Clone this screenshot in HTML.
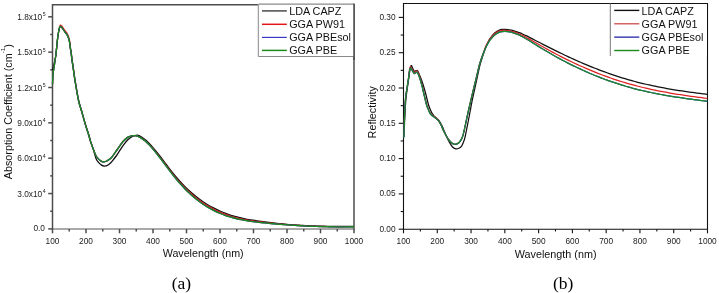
<!DOCTYPE html>
<html><head><meta charset="utf-8"><title>Absorption and Reflectivity</title>
<style>
html,body{margin:0;padding:0;background:#fff;}
body{width:719px;height:293px;overflow:hidden;}
svg{display:block;font-family:"Liberation Sans",sans-serif;will-change:transform;}
</style></head><body>
<svg width="719" height="293" viewBox="0 0 719 293">
<rect width="719" height="293" fill="#fff"/>
<g fill="none" stroke="#4d4d4d" stroke-width="1.5">
<path d="M52.50 229.60 V4.80 H354.00 V229.60"/>
<path d="M52.50 229.00 H354.00" stroke="#555" stroke-width="1"/>
<path d="M48.2 228.90 H52.50"/>
<path d="M50.2 211.22 H52.50"/>
<path d="M48.2 193.55 H52.50"/>
<path d="M50.2 175.88 H52.50"/>
<path d="M48.2 158.20 H52.50"/>
<path d="M50.2 140.53 H52.50"/>
<path d="M48.2 122.85 H52.50"/>
<path d="M50.2 105.18 H52.50"/>
<path d="M48.2 87.50 H52.50"/>
<path d="M50.2 69.83 H52.50"/>
<path d="M48.2 52.15 H52.50"/>
<path d="M50.2 34.48 H52.50"/>
<path d="M48.2 16.80 H52.50"/>
<path d="M52.50 229.00 V233.3"/>
<path d="M69.25 229.00 V231.4"/>
<path d="M86.00 229.00 V233.3"/>
<path d="M102.75 229.00 V231.4"/>
<path d="M119.50 229.00 V233.3"/>
<path d="M136.25 229.00 V231.4"/>
<path d="M153.00 229.00 V233.3"/>
<path d="M169.75 229.00 V231.4"/>
<path d="M186.50 229.00 V233.3"/>
<path d="M203.25 229.00 V231.4"/>
<path d="M220.00 229.00 V233.3"/>
<path d="M236.75 229.00 V231.4"/>
<path d="M253.50 229.00 V233.3"/>
<path d="M270.25 229.00 V231.4"/>
<path d="M287.00 229.00 V233.3"/>
<path d="M303.75 229.00 V231.4"/>
<path d="M320.50 229.00 V233.3"/>
<path d="M337.25 229.00 V231.4"/>
<path d="M354.00 229.00 V233.3"/>
</g>
<g fill="none" stroke-width="1.3" stroke-linejoin="round">
<path stroke="#111" d="M52.50 70.00C52.70 69.25 53.15 67.92 53.70 65.50C54.25 63.08 55.20 59.58 55.80 55.50C56.40 51.42 56.87 44.75 57.30 41.00C57.73 37.25 58.03 35.18 58.40 33.00C58.77 30.82 59.15 29.00 59.50 27.90C59.85 26.80 60.10 26.45 60.50 26.40C60.90 26.35 61.40 27.00 61.90 27.60C62.40 28.20 62.90 29.13 63.50 30.00C64.10 30.87 64.92 32.03 65.50 32.80C66.08 33.57 66.52 33.82 67.00 34.60C67.48 35.38 67.97 36.27 68.40 37.50C68.83 38.73 69.25 40.25 69.60 42.00C69.95 43.75 70.22 46.17 70.50 48.00C70.78 49.83 71.03 51.05 71.30 53.00C71.57 54.95 71.80 57.53 72.10 59.70C72.40 61.87 72.62 62.67 73.10 66.00C73.58 69.33 74.08 74.00 75.00 79.70C75.92 85.40 77.52 95.07 78.60 100.20C79.68 105.33 80.33 106.37 81.50 110.50C82.67 114.63 84.42 121.03 85.60 125.00C86.78 128.97 87.73 131.47 88.60 134.30C89.47 137.13 89.95 139.30 90.80 142.00C91.65 144.70 92.83 147.77 93.70 150.50C94.57 153.23 95.17 156.37 96.00 158.40C96.83 160.43 97.78 161.58 98.70 162.70C99.62 163.82 100.58 164.53 101.50 165.10C102.42 165.67 103.30 166.00 104.20 166.10C105.10 166.20 105.98 166.10 106.90 165.70C107.82 165.30 108.85 164.43 109.70 163.70C110.55 162.97 110.92 162.58 112.00 161.30C113.08 160.02 114.87 157.85 116.20 156.00C117.53 154.15 118.73 152.08 120.00 150.20C121.27 148.32 122.53 146.40 123.80 144.70C125.07 143.00 126.23 141.33 127.60 140.00C128.97 138.67 130.63 137.47 132.00 136.70C133.37 135.93 134.63 135.58 135.80 135.40C136.97 135.22 137.47 134.92 139.00 135.60C140.53 136.28 143.33 138.19 145.00 139.47C146.67 140.74 147.67 141.90 149.00 143.25C150.33 144.61 151.67 146.09 153.00 147.62C154.33 149.15 155.67 150.77 157.00 152.42C158.33 154.07 159.67 155.80 161.00 157.52C162.33 159.24 163.67 161.02 165.00 162.77C166.33 164.52 167.67 166.29 169.00 168.02C170.33 169.75 171.67 171.48 173.00 173.14C174.33 174.81 175.67 176.43 177.00 177.99C178.33 179.55 179.67 181.05 181.00 182.49C182.33 183.94 183.67 185.32 185.00 186.66C186.33 187.99 187.67 189.26 189.00 190.50C190.33 191.73 191.67 192.92 193.00 194.06C194.33 195.20 195.67 196.28 197.00 197.33C198.33 198.37 199.67 199.36 201.00 200.31C202.33 201.26 203.67 202.17 205.00 203.03C206.33 203.89 207.67 204.70 209.00 205.48C210.33 206.26 211.67 206.98 213.00 207.69C214.33 208.39 215.67 209.06 217.00 209.70C218.33 210.33 219.67 210.94 221.00 211.52C222.33 212.09 223.67 212.63 225.00 213.14C226.33 213.65 227.67 214.12 229.00 214.57C230.33 215.02 231.67 215.44 233.00 215.83C234.33 216.23 235.67 216.59 237.00 216.94C238.33 217.29 239.67 217.61 241.00 217.92C242.33 218.22 243.67 218.51 245.00 218.78C246.33 219.05 247.67 219.30 249.00 219.53C250.33 219.77 251.67 219.99 253.00 220.21C254.33 220.42 255.67 220.62 257.00 220.82C258.33 221.01 259.67 221.19 261.00 221.38C262.33 221.56 263.67 221.73 265.00 221.90C266.33 222.07 267.67 222.24 269.00 222.40C270.33 222.57 271.67 222.73 273.00 222.88C274.33 223.03 275.67 223.18 277.00 223.33C278.33 223.48 279.67 223.62 281.00 223.76C282.33 223.90 283.67 224.03 285.00 224.16C286.33 224.29 287.67 224.42 289.00 224.54C290.33 224.65 291.67 224.75 293.00 224.84C294.33 224.93 295.67 225.02 297.00 225.10C298.33 225.18 299.67 225.26 301.00 225.34C302.33 225.41 303.67 225.48 305.00 225.55C306.33 225.62 307.67 225.68 309.00 225.74C310.33 225.80 311.67 225.86 313.00 225.91C314.33 225.96 315.67 226.01 317.00 226.05C318.33 226.09 319.67 226.13 321.00 226.17C322.33 226.21 323.67 226.24 325.00 226.27C326.33 226.30 327.67 226.32 329.00 226.34C330.33 226.37 331.67 226.38 333.00 226.40C334.33 226.41 335.67 226.42 337.00 226.43C338.33 226.44 339.67 226.44 341.00 226.44C342.33 226.44 343.67 226.43 345.00 226.42C346.33 226.42 347.67 226.41 349.00 226.39C350.33 226.38 352.17 226.35 353.00 226.33C353.83 226.32 353.83 226.32 354.00 226.32"/>
<path stroke="#d81c1c" d="M52.50 84.00C52.58 82.42 52.80 76.92 53.00 74.50C53.20 72.08 53.23 72.67 53.70 69.50C54.17 66.33 55.20 60.25 55.80 55.50C56.40 50.75 56.87 44.75 57.30 41.00C57.73 37.25 58.03 35.23 58.40 33.00C58.77 30.77 59.17 28.92 59.50 27.60C59.83 26.28 60.00 25.32 60.40 25.10C60.80 24.88 61.38 25.70 61.90 26.30C62.42 26.90 62.90 27.83 63.50 28.70C64.10 29.57 64.92 30.73 65.50 31.50C66.08 32.27 66.53 32.52 67.00 33.30C67.47 34.08 67.88 34.97 68.30 36.20C68.72 37.43 69.17 38.73 69.50 40.70C69.83 42.67 70.03 45.95 70.30 48.00C70.57 50.05 70.83 51.05 71.10 53.00C71.37 54.95 71.60 57.53 71.90 59.70C72.20 61.87 72.42 62.70 72.90 66.00C73.38 69.30 73.88 73.83 74.80 79.50C75.72 85.17 77.32 94.88 78.40 100.00C79.48 105.12 80.13 106.10 81.30 110.20C82.47 114.30 84.22 120.63 85.40 124.60C86.58 128.57 87.53 131.17 88.40 134.00C89.27 136.83 89.73 138.93 90.60 141.60C91.47 144.27 92.70 147.63 93.60 150.00C94.50 152.37 95.15 154.28 96.00 155.80C96.85 157.32 97.78 158.18 98.70 159.10C99.62 160.02 100.58 160.85 101.50 161.30C102.42 161.75 103.30 161.85 104.20 161.80C105.10 161.75 105.98 161.45 106.90 161.00C107.82 160.55 108.80 159.83 109.70 159.10C110.60 158.37 110.98 158.28 112.30 156.60C113.62 154.92 115.85 151.47 117.60 149.00C119.35 146.53 121.13 143.73 122.80 141.80C124.47 139.87 126.15 138.40 127.60 137.40C129.05 136.40 130.27 136.08 131.50 135.80C132.73 135.52 133.92 135.62 135.00 135.70C136.08 135.78 137.08 135.98 138.00 136.30C138.92 136.62 139.33 136.87 140.50 137.59C141.67 138.32 143.58 139.52 145.00 140.67C146.42 141.81 147.67 143.10 149.00 144.45C150.33 145.81 151.67 147.29 153.00 148.82C154.33 150.35 155.67 151.97 157.00 153.62C158.33 155.27 159.67 157.00 161.00 158.72C162.33 160.44 163.67 162.22 165.00 163.97C166.33 165.72 167.67 167.49 169.00 169.22C170.33 170.95 171.67 172.68 173.00 174.34C174.33 176.01 175.67 177.63 177.00 179.19C178.33 180.75 179.67 182.25 181.00 183.69C182.33 185.14 183.67 186.52 185.00 187.86C186.33 189.19 187.67 190.46 189.00 191.70C190.33 192.93 191.67 194.12 193.00 195.26C194.33 196.40 195.67 197.48 197.00 198.53C198.33 199.57 199.67 200.56 201.00 201.51C202.33 202.46 203.67 203.37 205.00 204.23C206.33 205.09 207.67 205.90 209.00 206.68C210.33 207.46 211.67 208.19 213.00 208.89C214.33 209.59 215.67 210.24 217.00 210.87C218.33 211.50 219.67 212.09 221.00 212.65C222.33 213.20 223.67 213.72 225.00 214.22C226.33 214.71 227.67 215.17 229.00 215.60C230.33 216.03 231.67 216.44 233.00 216.82C234.33 217.20 235.67 217.55 237.00 217.88C238.33 218.21 239.67 218.52 241.00 218.81C242.33 219.10 243.67 219.36 245.00 219.62C246.33 219.87 247.67 220.10 249.00 220.33C250.33 220.55 251.67 220.75 253.00 220.95C254.33 221.15 255.67 221.33 257.00 221.51C258.33 221.69 259.67 221.86 261.00 222.02C262.33 222.19 263.67 222.35 265.00 222.50C266.33 222.66 267.67 222.81 269.00 222.96C270.33 223.10 271.67 223.25 273.00 223.38C274.33 223.52 275.67 223.66 277.00 223.79C278.33 223.92 279.67 224.04 281.00 224.17C282.33 224.29 283.67 224.41 285.00 224.52C286.33 224.63 287.67 224.75 289.00 224.85C290.33 224.95 291.67 225.05 293.00 225.14C294.33 225.23 295.67 225.32 297.00 225.40C298.33 225.48 299.67 225.56 301.00 225.64C302.33 225.71 303.67 225.78 305.00 225.85C306.33 225.92 307.67 225.98 309.00 226.04C310.33 226.10 311.67 226.16 313.00 226.21C314.33 226.26 315.67 226.31 317.00 226.35C318.33 226.39 319.67 226.43 321.00 226.47C322.33 226.51 323.67 226.54 325.00 226.57C326.33 226.60 327.67 226.62 329.00 226.64C330.33 226.67 331.67 226.68 333.00 226.70C334.33 226.71 335.67 226.72 337.00 226.73C338.33 226.74 339.67 226.74 341.00 226.74C342.33 226.74 343.67 226.73 345.00 226.72C346.33 226.72 347.67 226.71 349.00 226.69C350.33 226.68 352.17 226.65 353.00 226.63C353.83 226.62 353.83 226.62 354.00 226.62"/>
<path stroke="#2a2ab8" d="M52.50 84.50C52.58 82.83 52.80 77.00 53.00 74.50C53.20 72.00 53.23 72.67 53.70 69.50C54.17 66.33 55.20 60.25 55.80 55.50C56.40 50.75 56.87 44.75 57.30 41.00C57.73 37.25 58.03 35.23 58.40 33.00C58.77 30.77 59.17 28.70 59.50 27.60C59.83 26.50 60.00 26.40 60.40 26.40C60.80 26.40 61.38 27.00 61.90 27.60C62.42 28.20 62.90 29.13 63.50 30.00C64.10 30.87 64.92 32.03 65.50 32.80C66.08 33.57 66.53 33.82 67.00 34.60C67.47 35.38 67.88 36.27 68.30 37.50C68.72 38.73 69.17 40.25 69.50 42.00C69.83 43.75 70.03 46.17 70.30 48.00C70.57 49.83 70.83 51.05 71.10 53.00C71.37 54.95 71.60 57.53 71.90 59.70C72.20 61.87 72.42 62.70 72.90 66.00C73.38 69.30 73.88 73.83 74.80 79.50C75.72 85.17 77.32 94.88 78.40 100.00C79.48 105.12 80.13 106.10 81.30 110.20C82.47 114.30 84.22 120.63 85.40 124.60C86.58 128.57 87.53 131.17 88.40 134.00C89.27 136.83 89.73 138.93 90.60 141.60C91.47 144.27 92.70 147.63 93.60 150.00C94.50 152.37 95.15 154.28 96.00 155.80C96.85 157.32 97.78 158.18 98.70 159.10C99.62 160.02 100.58 160.85 101.50 161.30C102.42 161.75 103.30 161.85 104.20 161.80C105.10 161.75 105.98 161.45 106.90 161.00C107.82 160.55 108.80 159.83 109.70 159.10C110.60 158.37 110.98 158.28 112.30 156.60C113.62 154.92 115.85 151.47 117.60 149.00C119.35 146.53 121.13 143.73 122.80 141.80C124.47 139.87 126.15 138.40 127.60 137.40C129.05 136.40 130.27 136.08 131.50 135.80C132.73 135.52 133.92 135.62 135.00 135.70C136.08 135.78 137.08 135.98 138.00 136.30C138.92 136.62 139.33 136.86 140.50 137.61C141.67 138.35 143.58 139.61 145.00 140.79C146.42 141.96 147.67 143.28 149.00 144.67C150.33 146.06 151.67 147.57 153.00 149.13C154.33 150.69 155.67 152.35 157.00 154.03C158.33 155.71 159.67 157.47 161.00 159.22C162.33 160.98 163.67 162.78 165.00 164.57C166.33 166.35 167.67 168.16 169.00 169.92C170.33 171.68 171.67 173.44 173.00 175.14C174.33 176.83 175.67 178.49 177.00 180.08C178.33 181.67 179.67 183.20 181.00 184.68C182.33 186.15 183.67 187.57 185.00 188.94C186.33 190.30 187.67 191.62 189.00 192.87C190.33 194.13 191.67 195.31 193.00 196.46C194.33 197.60 195.67 198.68 197.00 199.73C198.33 200.77 199.67 201.76 201.00 202.71C202.33 203.66 203.67 204.57 205.00 205.43C206.33 206.29 207.67 207.10 209.00 207.88C210.33 208.66 211.67 209.39 213.00 210.09C214.33 210.78 215.67 211.43 217.00 212.04C218.33 212.65 219.67 213.22 221.00 213.76C222.33 214.30 223.67 214.80 225.00 215.27C226.33 215.74 227.67 216.18 229.00 216.60C230.33 217.01 231.67 217.39 233.00 217.75C234.33 218.11 235.67 218.44 237.00 218.76C238.33 219.07 239.67 219.36 241.00 219.63C242.33 219.90 243.67 220.14 245.00 220.38C246.33 220.61 247.67 220.82 249.00 221.03C250.33 221.23 251.67 221.42 253.00 221.60C254.33 221.77 255.67 221.94 257.00 222.10C258.33 222.26 259.67 222.40 261.00 222.55C262.33 222.69 263.67 222.83 265.00 222.97C266.33 223.10 267.67 223.24 269.00 223.36C270.33 223.49 271.67 223.61 273.00 223.73C274.33 223.85 275.67 223.97 277.00 224.08C278.33 224.19 279.67 224.30 281.00 224.40C282.33 224.50 283.67 224.60 285.00 224.69C286.33 224.79 287.67 224.87 289.00 224.96C290.33 225.06 291.67 225.15 293.00 225.24C294.33 225.33 295.67 225.42 297.00 225.50C298.33 225.58 299.67 225.66 301.00 225.74C302.33 225.81 303.67 225.88 305.00 225.95C306.33 226.02 307.67 226.08 309.00 226.14C310.33 226.20 311.67 226.26 313.00 226.31C314.33 226.36 315.67 226.41 317.00 226.45C318.33 226.49 319.67 226.53 321.00 226.57C322.33 226.61 323.67 226.64 325.00 226.67C326.33 226.70 327.67 226.72 329.00 226.74C330.33 226.77 331.67 226.78 333.00 226.80C334.33 226.81 335.67 226.82 337.00 226.83C338.33 226.84 339.67 226.84 341.00 226.84C342.33 226.84 343.67 226.83 345.00 226.82C346.33 226.82 347.67 226.81 349.00 226.79C350.33 226.78 352.17 226.75 353.00 226.73C353.83 226.72 353.83 226.72 354.00 226.72"/>
<path stroke="#1d8a1d" d="M52.50 84.50C52.58 82.83 52.80 77.00 53.00 74.50C53.20 72.00 53.23 72.67 53.70 69.50C54.17 66.33 55.20 60.25 55.80 55.50C56.40 50.75 56.87 44.75 57.30 41.00C57.73 37.25 58.03 35.23 58.40 33.00C58.77 30.77 59.17 28.70 59.50 27.60C59.83 26.50 60.00 26.40 60.40 26.40C60.80 26.40 61.38 27.00 61.90 27.60C62.42 28.20 62.90 29.13 63.50 30.00C64.10 30.87 64.92 32.03 65.50 32.80C66.08 33.57 66.53 33.82 67.00 34.60C67.47 35.38 67.88 36.27 68.30 37.50C68.72 38.73 69.17 40.25 69.50 42.00C69.83 43.75 70.03 46.17 70.30 48.00C70.57 49.83 70.83 51.05 71.10 53.00C71.37 54.95 71.60 57.53 71.90 59.70C72.20 61.87 72.42 62.70 72.90 66.00C73.38 69.30 73.88 73.83 74.80 79.50C75.72 85.17 77.32 94.88 78.40 100.00C79.48 105.12 80.13 106.10 81.30 110.20C82.47 114.30 84.22 120.63 85.40 124.60C86.58 128.57 87.53 131.17 88.40 134.00C89.27 136.83 89.73 138.93 90.60 141.60C91.47 144.27 92.70 147.63 93.60 150.00C94.50 152.37 95.15 154.28 96.00 155.80C96.85 157.32 97.78 158.18 98.70 159.10C99.62 160.02 100.58 160.85 101.50 161.30C102.42 161.75 103.30 161.85 104.20 161.80C105.10 161.75 105.98 161.45 106.90 161.00C107.82 160.55 108.80 159.83 109.70 159.10C110.60 158.37 110.98 158.28 112.30 156.60C113.62 154.92 115.85 151.47 117.60 149.00C119.35 146.53 121.13 143.73 122.80 141.80C124.47 139.87 126.15 138.40 127.60 137.40C129.05 136.40 130.27 136.08 131.50 135.80C132.73 135.52 133.92 135.62 135.00 135.70C136.08 135.78 137.08 135.98 138.00 136.30C138.92 136.62 139.33 136.86 140.50 137.61C141.67 138.35 143.58 139.61 145.00 140.79C146.42 141.96 147.67 143.28 149.00 144.67C150.33 146.06 151.67 147.57 153.00 149.13C154.33 150.69 155.67 152.35 157.00 154.03C158.33 155.71 159.67 157.47 161.00 159.22C162.33 160.98 163.67 162.78 165.00 164.57C166.33 166.35 167.67 168.16 169.00 169.92C170.33 171.68 171.67 173.44 173.00 175.14C174.33 176.83 175.67 178.49 177.00 180.08C178.33 181.67 179.67 183.20 181.00 184.68C182.33 186.15 183.67 187.57 185.00 188.94C186.33 190.30 187.67 191.62 189.00 192.87C190.33 194.13 191.67 195.31 193.00 196.46C194.33 197.60 195.67 198.68 197.00 199.73C198.33 200.77 199.67 201.76 201.00 202.71C202.33 203.66 203.67 204.57 205.00 205.43C206.33 206.29 207.67 207.10 209.00 207.88C210.33 208.66 211.67 209.39 213.00 210.09C214.33 210.78 215.67 211.43 217.00 212.04C218.33 212.65 219.67 213.22 221.00 213.76C222.33 214.30 223.67 214.80 225.00 215.27C226.33 215.74 227.67 216.18 229.00 216.60C230.33 217.01 231.67 217.39 233.00 217.75C234.33 218.11 235.67 218.44 237.00 218.76C238.33 219.07 239.67 219.36 241.00 219.63C242.33 219.90 243.67 220.14 245.00 220.38C246.33 220.61 247.67 220.82 249.00 221.03C250.33 221.23 251.67 221.42 253.00 221.60C254.33 221.77 255.67 221.94 257.00 222.10C258.33 222.26 259.67 222.40 261.00 222.55C262.33 222.69 263.67 222.83 265.00 222.97C266.33 223.10 267.67 223.24 269.00 223.36C270.33 223.49 271.67 223.61 273.00 223.73C274.33 223.85 275.67 223.97 277.00 224.08C278.33 224.19 279.67 224.30 281.00 224.40C282.33 224.50 283.67 224.60 285.00 224.69C286.33 224.79 287.67 224.87 289.00 224.96C290.33 225.06 291.67 225.15 293.00 225.24C294.33 225.33 295.67 225.42 297.00 225.50C298.33 225.58 299.67 225.66 301.00 225.74C302.33 225.81 303.67 225.88 305.00 225.95C306.33 226.02 307.67 226.08 309.00 226.14C310.33 226.20 311.67 226.26 313.00 226.31C314.33 226.36 315.67 226.41 317.00 226.45C318.33 226.49 319.67 226.53 321.00 226.57C322.33 226.61 323.67 226.64 325.00 226.67C326.33 226.70 327.67 226.72 329.00 226.74C330.33 226.77 331.67 226.78 333.00 226.80C334.33 226.81 335.67 226.82 337.00 226.83C338.33 226.84 339.67 226.84 341.00 226.84C342.33 226.84 343.67 226.83 345.00 226.82C346.33 226.82 347.67 226.81 349.00 226.79C350.33 226.78 352.17 226.75 353.00 226.73C353.83 226.72 353.83 226.72 354.00 226.72"/>
</g>
<rect x="258.4" y="3.0" width="95.60" height="53.50" fill="#fff"/>
<path d="M258.4 4.1 H354.00" fill="none" stroke="#8a8a8a" stroke-width="1.4"/>
<path d="M258.4 4.10 V56.5" fill="none" stroke="#a0a0a0" stroke-width="1.3"/>
<path d="M258.4 56.5 H354.00" fill="none" stroke="#888" stroke-width="1.1"/>
<path d="M354.00 3.4 V60" fill="none" stroke="#4d4d4d" stroke-width="1.5"/>
<path d="M262 10.90 H286.8" stroke="#4a4a4a" stroke-width="1.5"/>
<text x="289.2" y="15.10" font-size="10.8" fill="#111">LDA CAPZ</text>
<path d="M262 24.30 H286.8" stroke="#e01818" stroke-width="1.5"/>
<text x="289.2" y="28.05" font-size="10.8" fill="#111">GGA PW91</text>
<path d="M262 37.40 H286.8" stroke="#3838c8" stroke-width="1.2"/>
<text x="289.2" y="41.00" font-size="10.8" fill="#111">GGA PBEsol</text>
<path d="M262 50.40 H286.8" stroke="#1a8a1a" stroke-width="1.5"/>
<text x="289.2" y="53.95" font-size="10.8" fill="#111">GGA PBE</text>
<g font-size="8.3" fill="#222">
<text x="45.60" y="196.75" text-anchor="end" font-size="8.30">3.0x10<tspan dx="0.5" dy="-3.6" font-size="5.20">4</tspan></text>
<text x="45.60" y="161.40" text-anchor="end" font-size="8.30">6.0x10<tspan dx="0.5" dy="-3.6" font-size="5.20">4</tspan></text>
<text x="45.60" y="126.05" text-anchor="end" font-size="8.30">9.0x10<tspan dx="0.5" dy="-3.6" font-size="5.20">4</tspan></text>
<text x="45.60" y="90.70" text-anchor="end" font-size="8.30">1.2x10<tspan dx="0.5" dy="-3.6" font-size="5.20">5</tspan></text>
<text x="45.60" y="55.35" text-anchor="end" font-size="8.30">1.5x10<tspan dx="0.5" dy="-3.6" font-size="5.20">5</tspan></text>
<text x="45.60" y="20.00" text-anchor="end" font-size="8.30">1.8x10<tspan dx="0.5" dy="-3.6" font-size="5.20">5</tspan></text>
<text x="45.0" y="231.40" text-anchor="end">0.0</text>
<text x="52.50" y="243.8" text-anchor="middle">100</text>
<text x="86.00" y="243.8" text-anchor="middle">200</text>
<text x="119.50" y="243.8" text-anchor="middle">300</text>
<text x="153.00" y="243.8" text-anchor="middle">400</text>
<text x="186.50" y="243.8" text-anchor="middle">500</text>
<text x="220.00" y="243.8" text-anchor="middle">600</text>
<text x="253.50" y="243.8" text-anchor="middle">700</text>
<text x="287.00" y="243.8" text-anchor="middle">800</text>
<text x="320.50" y="243.8" text-anchor="middle">900</text>
<text x="354.00" y="243.8" text-anchor="middle">1000</text>
</g>
<text x="203.2" y="257.4" text-anchor="middle" font-size="10.7" fill="#111">Wavelength (nm)</text>
<text transform="translate(12.2 111.7) rotate(-90)" text-anchor="middle" font-size="10.75" fill="#111">Absorption Coefficient (cm<tspan dy="-7.2" font-size="6.2">-1</tspan><tspan dy="7.2">)</tspan></text>
<g fill="none" stroke="#111" stroke-width="1.1">
<path d="M403.50 3.45 H707.50 V229.25 H403.50 Z"/>
<path d="M398.7 229.20 H403.50"/>
<path d="M400.7 211.55 H403.50"/>
<path d="M398.7 193.90 H403.50"/>
<path d="M400.7 176.25 H403.50"/>
<path d="M398.7 158.60 H403.50"/>
<path d="M400.7 140.95 H403.50"/>
<path d="M398.7 123.30 H403.50"/>
<path d="M400.7 105.65 H403.50"/>
<path d="M398.7 88.00 H403.50"/>
<path d="M400.7 70.35 H403.50"/>
<path d="M398.7 52.70 H403.50"/>
<path d="M400.7 35.05 H403.50"/>
<path d="M398.7 17.40 H403.50"/>
<path d="M403.50 229.25 V233.3"/>
<path d="M420.39 229.25 V231.5"/>
<path d="M437.28 229.25 V233.3"/>
<path d="M454.17 229.25 V231.5"/>
<path d="M471.06 229.25 V233.3"/>
<path d="M487.94 229.25 V231.5"/>
<path d="M504.83 229.25 V233.3"/>
<path d="M521.72 229.25 V231.5"/>
<path d="M538.61 229.25 V233.3"/>
<path d="M555.50 229.25 V231.5"/>
<path d="M572.39 229.25 V233.3"/>
<path d="M589.28 229.25 V231.5"/>
<path d="M606.17 229.25 V233.3"/>
<path d="M623.06 229.25 V231.5"/>
<path d="M639.94 229.25 V233.3"/>
<path d="M656.83 229.25 V231.5"/>
<path d="M673.72 229.25 V233.3"/>
<path d="M690.61 229.25 V231.5"/>
<path d="M707.50 229.25 V233.3"/>
</g>
<g fill="none" stroke-width="1.25" stroke-linejoin="round">
<path stroke="#111" d="M403.80 137.00C403.90 135.17 404.22 129.67 404.40 126.00C404.58 122.33 404.70 118.83 404.90 115.00C405.10 111.17 405.37 106.25 405.60 103.00C405.83 99.75 405.98 98.17 406.30 95.50C406.62 92.83 407.08 89.92 407.50 87.00C407.92 84.08 408.42 80.70 408.80 78.00C409.18 75.30 409.40 72.87 409.80 70.80C410.20 68.73 410.70 65.98 411.20 65.60C411.70 65.22 412.27 67.55 412.80 68.50C413.33 69.45 413.65 70.98 414.40 71.30C415.15 71.62 416.48 69.85 417.30 70.40C418.12 70.95 418.58 72.95 419.30 74.60C420.02 76.25 420.85 78.23 421.60 80.30C422.35 82.37 423.08 84.63 423.80 87.00C424.52 89.37 425.13 91.58 425.90 94.50C426.67 97.42 427.65 101.95 428.40 104.50C429.15 107.05 429.78 108.32 430.40 109.80C431.02 111.28 431.52 112.40 432.10 113.40C432.68 114.40 433.32 115.13 433.90 115.80C434.48 116.47 434.75 116.60 435.60 117.40C436.45 118.20 437.95 119.23 439.00 120.60C440.05 121.97 441.03 123.87 441.90 125.60C442.77 127.33 443.42 129.13 444.20 131.00C444.98 132.87 445.78 135.03 446.60 136.80C447.42 138.57 448.12 139.90 449.10 141.60C450.08 143.30 451.38 145.80 452.50 147.00C453.62 148.20 454.75 148.58 455.80 148.80C456.85 149.02 457.87 148.70 458.80 148.30C459.73 147.90 460.65 147.37 461.40 146.40C462.15 145.43 462.70 144.00 463.30 142.50C463.90 141.00 464.20 140.82 465.00 137.40C465.80 133.98 467.23 126.40 468.10 122.00C468.97 117.60 469.52 114.58 470.20 111.00C470.88 107.42 471.40 104.42 472.20 100.50C473.00 96.58 474.10 91.67 475.00 87.50C475.90 83.33 476.78 79.20 477.60 75.50C478.42 71.80 479.18 68.13 479.90 65.30C480.62 62.47 481.22 60.67 481.90 58.50C482.58 56.33 483.23 54.42 484.00 52.30C484.77 50.18 485.58 47.97 486.50 45.80C487.42 43.63 488.92 40.47 489.50 39.30C490.08 38.13 489.42 39.54 490.00 38.76C490.58 37.98 492.00 35.78 493.00 34.63C494.00 33.49 495.00 32.61 496.00 31.88C497.00 31.14 498.00 30.64 499.00 30.24C500.00 29.84 501.00 29.63 502.00 29.48C503.00 29.33 504.00 29.32 505.00 29.34C506.00 29.36 507.00 29.47 508.00 29.60C509.00 29.73 510.00 29.90 511.00 30.11C512.00 30.32 513.00 30.58 514.00 30.86C515.00 31.14 516.00 31.47 517.00 31.81C518.00 32.16 519.00 32.54 520.00 32.93C521.00 33.33 522.00 33.76 523.00 34.20C524.00 34.65 525.00 35.11 526.00 35.59C527.00 36.07 528.00 36.57 529.00 37.07C530.00 37.57 531.00 38.09 532.00 38.61C533.00 39.13 534.00 39.65 535.00 40.18C536.00 40.70 537.00 41.23 538.00 41.76C539.00 42.28 540.00 42.80 541.00 43.32C542.00 43.84 543.00 44.35 544.00 44.87C545.00 45.38 546.00 45.89 547.00 46.40C548.00 46.91 549.00 47.41 550.00 47.91C551.00 48.42 552.00 48.91 553.00 49.41C554.00 49.91 555.00 50.40 556.00 50.89C557.00 51.38 558.00 51.87 559.00 52.35C560.00 52.84 561.00 53.32 562.00 53.79C563.00 54.27 564.00 54.75 565.00 55.22C566.00 55.69 567.00 56.16 568.00 56.62C569.00 57.08 570.00 57.55 571.00 58.00C572.00 58.46 573.00 58.91 574.00 59.36C575.00 59.81 576.00 60.26 577.00 60.70C578.00 61.15 579.00 61.58 580.00 62.02C581.00 62.45 582.00 62.89 583.00 63.31C584.00 63.74 585.00 64.16 586.00 64.58C587.00 65.00 588.00 65.42 589.00 65.83C590.00 66.24 591.00 66.65 592.00 67.05C593.00 67.45 594.00 67.85 595.00 68.25C596.00 68.64 597.00 69.03 598.00 69.42C599.00 69.80 600.00 70.19 601.00 70.56C602.00 70.94 603.00 71.31 604.00 71.68C605.00 72.05 606.00 72.41 607.00 72.77C608.00 73.13 609.00 73.48 610.00 73.83C611.00 74.18 612.00 74.53 613.00 74.87C614.00 75.20 615.00 75.54 616.00 75.87C617.00 76.20 618.00 76.52 619.00 76.84C620.00 77.16 621.00 77.48 622.00 77.79C623.00 78.10 624.00 78.40 625.00 78.70C626.00 79.00 627.00 79.29 628.00 79.58C629.00 79.87 630.00 80.16 631.00 80.43C632.00 80.71 633.00 80.99 634.00 81.25C635.00 81.52 636.00 81.78 637.00 82.04C638.00 82.30 639.00 82.56 640.00 82.80C641.00 83.05 642.00 83.30 643.00 83.54C644.00 83.78 645.00 84.01 646.00 84.24C647.00 84.48 648.00 84.70 649.00 84.92C650.00 85.15 651.00 85.37 652.00 85.58C653.00 85.79 654.00 86.00 655.00 86.21C656.00 86.42 657.00 86.62 658.00 86.82C659.00 87.02 660.00 87.21 661.00 87.41C662.00 87.60 663.00 87.79 664.00 87.97C665.00 88.16 666.00 88.34 667.00 88.52C668.00 88.69 669.00 88.87 670.00 89.04C671.00 89.21 672.00 89.38 673.00 89.55C674.00 89.71 675.00 89.88 676.00 90.04C677.00 90.20 678.00 90.36 679.00 90.51C680.00 90.67 681.00 90.82 682.00 90.97C683.00 91.12 684.00 91.27 685.00 91.41C686.00 91.56 687.00 91.70 688.00 91.84C689.00 91.98 690.00 92.12 691.00 92.26C692.00 92.39 693.00 92.53 694.00 92.66C695.00 92.80 696.00 92.93 697.00 93.06C698.00 93.19 699.00 93.32 700.00 93.44C701.00 93.57 702.00 93.69 703.00 93.82C704.00 93.94 705.28 94.10 706.00 94.19C706.72 94.27 707.08 94.32 707.30 94.34"/>
<path stroke="#dd2222" d="M403.80 137.10C403.87 135.18 404.07 129.35 404.20 125.60C404.33 121.85 404.43 118.43 404.60 114.60C404.77 110.77 404.98 105.85 405.20 102.60C405.42 99.35 405.57 97.77 405.90 95.10C406.23 92.43 406.77 89.43 407.20 86.60C407.63 83.77 408.13 80.82 408.50 78.10C408.87 75.38 409.07 72.22 409.40 70.30C409.73 68.38 410.02 66.75 410.50 66.60C410.98 66.45 411.67 68.43 412.30 69.40C412.93 70.37 413.53 72.15 414.30 72.40C415.07 72.65 416.15 70.58 416.90 70.90C417.65 71.22 418.18 72.82 418.80 74.30C419.42 75.78 420.02 77.85 420.60 79.80C421.18 81.75 421.73 83.63 422.30 86.00C422.87 88.37 423.28 90.92 424.00 94.00C424.72 97.08 425.85 101.92 426.60 104.50C427.35 107.08 427.90 108.07 428.50 109.50C429.10 110.93 429.57 112.13 430.20 113.10C430.83 114.07 431.62 114.70 432.30 115.30C432.98 115.90 433.37 115.97 434.30 116.70C435.23 117.43 436.80 118.35 437.90 119.70C439.00 121.05 440.05 123.17 440.90 124.80C441.75 126.43 442.23 127.88 443.00 129.50C443.77 131.12 444.65 132.93 445.50 134.50C446.35 136.07 447.10 137.53 448.10 138.90C449.10 140.27 450.38 141.80 451.50 142.70C452.62 143.60 453.72 144.18 454.80 144.30C455.88 144.42 457.07 143.97 458.00 143.40C458.93 142.83 459.70 141.88 460.40 140.90C461.10 139.92 461.68 138.77 462.20 137.50C462.72 136.23 462.87 135.88 463.50 133.30C464.13 130.72 465.17 125.80 466.00 122.00C466.83 118.20 467.67 114.25 468.50 110.50C469.33 106.75 470.08 103.42 471.00 99.50C471.92 95.58 473.02 91.05 474.00 87.00C474.98 82.95 476.02 78.87 476.90 75.20C477.78 71.53 478.55 67.78 479.30 65.00C480.05 62.22 480.70 60.57 481.40 58.50C482.10 56.43 482.72 54.75 483.50 52.60C484.28 50.45 485.10 47.80 486.10 45.60C487.10 43.40 488.85 40.50 489.50 39.40C490.15 38.30 489.42 39.67 490.00 38.97C490.58 38.28 492.00 36.28 493.00 35.23C494.00 34.19 495.00 33.37 496.00 32.69C497.00 32.01 498.00 31.53 499.00 31.14C500.00 30.76 501.00 30.54 502.00 30.39C503.00 30.25 504.00 30.23 505.00 30.25C506.00 30.27 507.00 30.37 508.00 30.51C509.00 30.65 510.00 30.84 511.00 31.07C512.00 31.30 513.00 31.58 514.00 31.90C515.00 32.21 516.00 32.57 517.00 32.96C518.00 33.35 519.00 33.77 520.00 34.22C521.00 34.66 522.00 35.14 523.00 35.64C524.00 36.14 525.00 36.66 526.00 37.19C527.00 37.73 528.00 38.29 529.00 38.85C530.00 39.41 531.00 39.99 532.00 40.56C533.00 41.14 534.00 41.73 535.00 42.31C536.00 42.90 537.00 43.48 538.00 44.06C539.00 44.64 540.00 45.21 541.00 45.78C542.00 46.35 543.00 46.92 544.00 47.48C545.00 48.04 546.00 48.59 547.00 49.15C548.00 49.70 549.00 50.25 550.00 50.79C551.00 51.33 552.00 51.87 553.00 52.41C554.00 52.94 555.00 53.47 556.00 53.99C557.00 54.52 558.00 55.04 559.00 55.56C560.00 56.07 561.00 56.58 562.00 57.09C563.00 57.60 564.00 58.10 565.00 58.60C566.00 59.10 567.00 59.59 568.00 60.08C569.00 60.57 570.00 61.05 571.00 61.53C572.00 62.01 573.00 62.48 574.00 62.95C575.00 63.42 576.00 63.89 577.00 64.35C578.00 64.81 579.00 65.26 580.00 65.71C581.00 66.16 582.00 66.61 583.00 67.05C584.00 67.49 585.00 67.93 586.00 68.36C587.00 68.79 588.00 69.22 589.00 69.64C590.00 70.06 591.00 70.48 592.00 70.89C593.00 71.30 594.00 71.71 595.00 72.11C596.00 72.51 597.00 72.91 598.00 73.30C599.00 73.69 600.00 74.08 601.00 74.46C602.00 74.85 603.00 75.22 604.00 75.59C605.00 75.97 606.00 76.33 607.00 76.69C608.00 77.06 609.00 77.41 610.00 77.76C611.00 78.12 612.00 78.46 613.00 78.80C614.00 79.15 615.00 79.48 616.00 79.81C617.00 80.14 618.00 80.47 619.00 80.79C620.00 81.11 621.00 81.43 622.00 81.74C623.00 82.05 624.00 82.35 625.00 82.65C626.00 82.95 627.00 83.24 628.00 83.53C629.00 83.82 630.00 84.10 631.00 84.38C632.00 84.66 633.00 84.93 634.00 85.20C635.00 85.47 636.00 85.74 637.00 85.99C638.00 86.25 639.00 86.51 640.00 86.76C641.00 87.01 642.00 87.25 643.00 87.49C644.00 87.73 645.00 87.97 646.00 88.20C647.00 88.43 648.00 88.66 649.00 88.88C650.00 89.10 651.00 89.32 652.00 89.54C653.00 89.75 654.00 89.96 655.00 90.17C656.00 90.38 657.00 90.58 658.00 90.78C659.00 90.98 660.00 91.18 661.00 91.37C662.00 91.56 663.00 91.75 664.00 91.94C665.00 92.12 666.00 92.30 667.00 92.48C668.00 92.66 669.00 92.84 670.00 93.01C671.00 93.19 672.00 93.36 673.00 93.52C674.00 93.69 675.00 93.86 676.00 94.02C677.00 94.18 678.00 94.34 679.00 94.50C680.00 94.65 681.00 94.81 682.00 94.96C683.00 95.11 684.00 95.26 685.00 95.41C686.00 95.56 687.00 95.70 688.00 95.85C689.00 95.99 690.00 96.13 691.00 96.27C692.00 96.41 693.00 96.55 694.00 96.68C695.00 96.82 696.00 96.95 697.00 97.09C698.00 97.22 699.00 97.35 700.00 97.48C701.00 97.61 702.00 97.74 703.00 97.87C704.00 98.00 705.28 98.16 706.00 98.25C706.72 98.34 707.08 98.38 707.30 98.41"/>
<path stroke="#2a2ab8" d="M403.80 137.50C403.87 135.58 404.07 129.75 404.20 126.00C404.33 122.25 404.43 118.83 404.60 115.00C404.77 111.17 404.98 106.25 405.20 103.00C405.42 99.75 405.57 98.17 405.90 95.50C406.23 92.83 406.77 89.83 407.20 87.00C407.63 84.17 408.13 81.08 408.50 78.50C408.87 75.92 409.07 73.28 409.40 71.50C409.73 69.72 410.02 67.95 410.50 67.80C410.98 67.65 411.67 69.63 412.30 70.60C412.93 71.57 413.53 73.35 414.30 73.60C415.07 73.85 416.15 71.78 416.90 72.10C417.65 72.42 418.18 74.02 418.80 75.50C419.42 76.98 420.02 79.05 420.60 81.00C421.18 82.95 421.73 84.95 422.30 87.20C422.87 89.45 423.28 91.53 424.00 94.50C424.72 97.47 425.85 102.42 426.60 105.00C427.35 107.58 427.90 108.57 428.50 110.00C429.10 111.43 429.57 112.63 430.20 113.60C430.83 114.57 431.62 115.20 432.30 115.80C432.98 116.40 433.37 116.47 434.30 117.20C435.23 117.93 436.80 118.93 437.90 120.20C439.00 121.47 440.05 123.25 440.90 124.80C441.75 126.35 442.23 127.88 443.00 129.50C443.77 131.12 444.65 132.93 445.50 134.50C446.35 136.07 447.10 137.53 448.10 138.90C449.10 140.27 450.38 141.80 451.50 142.70C452.62 143.60 453.72 144.18 454.80 144.30C455.88 144.42 457.07 143.97 458.00 143.40C458.93 142.83 459.70 141.88 460.40 140.90C461.10 139.92 461.68 138.77 462.20 137.50C462.72 136.23 462.87 135.88 463.50 133.30C464.13 130.72 465.17 125.80 466.00 122.00C466.83 118.20 467.67 114.20 468.50 110.50C469.33 106.80 470.08 103.67 471.00 99.80C471.92 95.93 473.02 91.35 474.00 87.30C474.98 83.25 476.02 79.17 476.90 75.50C477.78 71.83 478.55 68.08 479.30 65.30C480.05 62.52 480.70 60.87 481.40 58.80C482.10 56.73 482.72 54.90 483.50 52.90C484.28 50.90 485.10 48.85 486.10 46.80C487.10 44.75 488.85 41.71 489.50 40.60C490.15 39.49 489.42 40.84 490.00 40.17C490.58 39.49 492.00 37.57 493.00 36.55C494.00 35.53 495.00 34.72 496.00 34.03C497.00 33.35 498.00 32.85 499.00 32.45C500.00 32.06 501.00 31.81 502.00 31.64C503.00 31.47 504.00 31.43 505.00 31.43C506.00 31.43 507.00 31.53 508.00 31.66C509.00 31.79 510.00 31.98 511.00 32.22C512.00 32.46 513.00 32.75 514.00 33.08C515.00 33.41 516.00 33.79 517.00 34.20C518.00 34.61 519.00 35.07 520.00 35.54C521.00 36.02 522.00 36.54 523.00 37.07C524.00 37.60 525.00 38.17 526.00 38.74C527.00 39.32 528.00 39.92 529.00 40.53C530.00 41.13 531.00 41.75 532.00 42.38C533.00 43.00 534.00 43.63 535.00 44.26C536.00 44.89 537.00 45.52 538.00 46.14C539.00 46.76 540.00 47.37 541.00 47.98C542.00 48.59 543.00 49.19 544.00 49.79C545.00 50.39 546.00 50.98 547.00 51.57C548.00 52.16 549.00 52.74 550.00 53.31C551.00 53.89 552.00 54.46 553.00 55.03C554.00 55.59 555.00 56.15 556.00 56.70C557.00 57.26 558.00 57.81 559.00 58.35C560.00 58.89 561.00 59.43 562.00 59.96C563.00 60.49 564.00 61.02 565.00 61.54C566.00 62.06 567.00 62.57 568.00 63.08C569.00 63.59 570.00 64.09 571.00 64.59C572.00 65.09 573.00 65.58 574.00 66.07C575.00 66.55 576.00 67.03 577.00 67.51C578.00 67.99 579.00 68.46 580.00 68.92C581.00 69.38 582.00 69.84 583.00 70.30C584.00 70.75 585.00 71.20 586.00 71.64C587.00 72.08 588.00 72.52 589.00 72.95C590.00 73.38 591.00 73.80 592.00 74.22C593.00 74.64 594.00 75.06 595.00 75.46C596.00 75.87 597.00 76.27 598.00 76.67C599.00 77.07 600.00 77.46 601.00 77.85C602.00 78.23 603.00 78.61 604.00 78.99C605.00 79.36 606.00 79.73 607.00 80.09C608.00 80.46 609.00 80.81 610.00 81.16C611.00 81.52 612.00 81.86 613.00 82.20C614.00 82.54 615.00 82.88 616.00 83.21C617.00 83.54 618.00 83.86 619.00 84.18C620.00 84.50 621.00 84.81 622.00 85.12C623.00 85.42 624.00 85.73 625.00 86.02C626.00 86.32 627.00 86.61 628.00 86.89C629.00 87.18 630.00 87.45 631.00 87.73C632.00 88.00 633.00 88.27 634.00 88.53C635.00 88.79 636.00 89.05 637.00 89.30C638.00 89.56 639.00 89.80 640.00 90.05C641.00 90.29 642.00 90.53 643.00 90.76C644.00 90.99 645.00 91.22 646.00 91.45C647.00 91.67 648.00 91.89 649.00 92.11C650.00 92.32 651.00 92.53 652.00 92.74C653.00 92.95 654.00 93.15 655.00 93.35C656.00 93.55 657.00 93.74 658.00 93.94C659.00 94.13 660.00 94.32 661.00 94.50C662.00 94.68 663.00 94.87 664.00 95.04C665.00 95.22 666.00 95.40 667.00 95.57C668.00 95.74 669.00 95.91 670.00 96.07C671.00 96.24 672.00 96.40 673.00 96.56C674.00 96.72 675.00 96.88 676.00 97.03C677.00 97.19 678.00 97.34 679.00 97.49C680.00 97.64 681.00 97.79 682.00 97.93C683.00 98.08 684.00 98.22 685.00 98.36C686.00 98.50 687.00 98.64 688.00 98.78C689.00 98.92 690.00 99.06 691.00 99.19C692.00 99.33 693.00 99.46 694.00 99.59C695.00 99.72 696.00 99.85 697.00 99.98C698.00 100.11 699.00 100.24 700.00 100.37C701.00 100.49 702.00 100.62 703.00 100.74C704.00 100.87 705.28 101.03 706.00 101.12C706.72 101.21 707.08 101.25 707.30 101.28"/>
<path stroke="#1d8a2a" d="M403.80 137.50C403.87 135.58 404.07 129.75 404.20 126.00C404.33 122.25 404.43 118.83 404.60 115.00C404.77 111.17 404.98 106.25 405.20 103.00C405.42 99.75 405.57 98.17 405.90 95.50C406.23 92.83 406.77 89.83 407.20 87.00C407.63 84.17 408.13 81.08 408.50 78.50C408.87 75.92 409.07 73.28 409.40 71.50C409.73 69.72 410.02 67.95 410.50 67.80C410.98 67.65 411.67 69.63 412.30 70.60C412.93 71.57 413.53 73.35 414.30 73.60C415.07 73.85 416.15 71.78 416.90 72.10C417.65 72.42 418.18 74.02 418.80 75.50C419.42 76.98 420.02 79.05 420.60 81.00C421.18 82.95 421.73 84.95 422.30 87.20C422.87 89.45 423.28 91.53 424.00 94.50C424.72 97.47 425.85 102.42 426.60 105.00C427.35 107.58 427.90 108.57 428.50 110.00C429.10 111.43 429.57 112.63 430.20 113.60C430.83 114.57 431.62 115.20 432.30 115.80C432.98 116.40 433.37 116.47 434.30 117.20C435.23 117.93 436.80 118.93 437.90 120.20C439.00 121.47 440.05 123.25 440.90 124.80C441.75 126.35 442.23 127.88 443.00 129.50C443.77 131.12 444.65 132.93 445.50 134.50C446.35 136.07 447.10 137.53 448.10 138.90C449.10 140.27 450.38 141.80 451.50 142.70C452.62 143.60 453.72 144.18 454.80 144.30C455.88 144.42 457.07 143.97 458.00 143.40C458.93 142.83 459.70 141.88 460.40 140.90C461.10 139.92 461.68 138.77 462.20 137.50C462.72 136.23 462.87 135.88 463.50 133.30C464.13 130.72 465.17 125.80 466.00 122.00C466.83 118.20 467.67 114.20 468.50 110.50C469.33 106.80 470.08 103.67 471.00 99.80C471.92 95.93 473.02 91.35 474.00 87.30C474.98 83.25 476.02 79.17 476.90 75.50C477.78 71.83 478.55 68.08 479.30 65.30C480.05 62.52 480.70 60.87 481.40 58.80C482.10 56.73 482.72 54.90 483.50 52.90C484.28 50.90 485.10 48.85 486.10 46.80C487.10 44.75 488.85 41.71 489.50 40.60C490.15 39.49 489.42 40.84 490.00 40.17C490.58 39.49 492.00 37.57 493.00 36.55C494.00 35.53 495.00 34.72 496.00 34.03C497.00 33.35 498.00 32.85 499.00 32.45C500.00 32.06 501.00 31.81 502.00 31.64C503.00 31.47 504.00 31.43 505.00 31.43C506.00 31.43 507.00 31.53 508.00 31.66C509.00 31.79 510.00 31.98 511.00 32.22C512.00 32.46 513.00 32.75 514.00 33.08C515.00 33.41 516.00 33.79 517.00 34.20C518.00 34.61 519.00 35.07 520.00 35.54C521.00 36.02 522.00 36.54 523.00 37.07C524.00 37.60 525.00 38.17 526.00 38.74C527.00 39.32 528.00 39.92 529.00 40.53C530.00 41.13 531.00 41.75 532.00 42.38C533.00 43.00 534.00 43.63 535.00 44.26C536.00 44.89 537.00 45.52 538.00 46.14C539.00 46.76 540.00 47.37 541.00 47.98C542.00 48.59 543.00 49.19 544.00 49.79C545.00 50.39 546.00 50.98 547.00 51.57C548.00 52.16 549.00 52.74 550.00 53.31C551.00 53.89 552.00 54.46 553.00 55.03C554.00 55.59 555.00 56.15 556.00 56.70C557.00 57.26 558.00 57.81 559.00 58.35C560.00 58.89 561.00 59.43 562.00 59.96C563.00 60.49 564.00 61.02 565.00 61.54C566.00 62.06 567.00 62.57 568.00 63.08C569.00 63.59 570.00 64.09 571.00 64.59C572.00 65.09 573.00 65.58 574.00 66.07C575.00 66.55 576.00 67.03 577.00 67.51C578.00 67.99 579.00 68.46 580.00 68.92C581.00 69.38 582.00 69.84 583.00 70.30C584.00 70.75 585.00 71.20 586.00 71.64C587.00 72.08 588.00 72.52 589.00 72.95C590.00 73.38 591.00 73.80 592.00 74.22C593.00 74.64 594.00 75.06 595.00 75.46C596.00 75.87 597.00 76.27 598.00 76.67C599.00 77.07 600.00 77.46 601.00 77.85C602.00 78.23 603.00 78.61 604.00 78.99C605.00 79.36 606.00 79.73 607.00 80.09C608.00 80.46 609.00 80.81 610.00 81.16C611.00 81.52 612.00 81.86 613.00 82.20C614.00 82.54 615.00 82.88 616.00 83.21C617.00 83.54 618.00 83.86 619.00 84.18C620.00 84.50 621.00 84.81 622.00 85.12C623.00 85.42 624.00 85.73 625.00 86.02C626.00 86.32 627.00 86.61 628.00 86.89C629.00 87.18 630.00 87.45 631.00 87.73C632.00 88.00 633.00 88.27 634.00 88.53C635.00 88.79 636.00 89.05 637.00 89.30C638.00 89.56 639.00 89.80 640.00 90.05C641.00 90.29 642.00 90.53 643.00 90.76C644.00 90.99 645.00 91.22 646.00 91.45C647.00 91.67 648.00 91.89 649.00 92.11C650.00 92.32 651.00 92.53 652.00 92.74C653.00 92.95 654.00 93.15 655.00 93.35C656.00 93.55 657.00 93.74 658.00 93.94C659.00 94.13 660.00 94.32 661.00 94.50C662.00 94.68 663.00 94.87 664.00 95.04C665.00 95.22 666.00 95.40 667.00 95.57C668.00 95.74 669.00 95.91 670.00 96.07C671.00 96.24 672.00 96.40 673.00 96.56C674.00 96.72 675.00 96.88 676.00 97.03C677.00 97.19 678.00 97.34 679.00 97.49C680.00 97.64 681.00 97.79 682.00 97.93C683.00 98.08 684.00 98.22 685.00 98.36C686.00 98.50 687.00 98.64 688.00 98.78C689.00 98.92 690.00 99.06 691.00 99.19C692.00 99.33 693.00 99.46 694.00 99.59C695.00 99.72 696.00 99.85 697.00 99.98C698.00 100.11 699.00 100.24 700.00 100.37C701.00 100.49 702.00 100.62 703.00 100.74C704.00 100.87 705.28 101.03 706.00 101.12C706.72 101.21 707.08 101.25 707.30 101.28"/>
</g>
<rect x="610.3" y="4.05" width="96.60" height="52.55" fill="#fff"/>
<path d="M610.3 3.45 V56" stroke="#777" stroke-width="1"/>
<path d="M614.2 10.40 H639.3" stroke="#111" stroke-width="1.4"/>
<text x="641.6" y="14.70" font-size="10.8" fill="#111">LDA CAPZ</text>
<path d="M614.2 23.77 H639.3" stroke="#d05a5a" stroke-width="1.4"/>
<text x="641.6" y="27.80" font-size="10.8" fill="#111">GGA PW91</text>
<path d="M614.2 37.14 H639.3" stroke="#3434b4" stroke-width="1.4"/>
<text x="641.6" y="40.90" font-size="10.8" fill="#111">GGA PBEsol</text>
<path d="M614.2 50.51 H639.3" stroke="#1a8a1a" stroke-width="1.4"/>
<text x="641.6" y="54.00" font-size="10.8" fill="#111">GGA PBE</text>
<g font-size="8.3" fill="#222">
<text x="395.6" y="231.70" text-anchor="end">0.00</text>
<text x="395.6" y="196.40" text-anchor="end">0.05</text>
<text x="395.6" y="161.10" text-anchor="end">0.10</text>
<text x="395.6" y="125.80" text-anchor="end">0.15</text>
<text x="395.6" y="90.50" text-anchor="end">0.20</text>
<text x="395.6" y="55.20" text-anchor="end">0.25</text>
<text x="395.6" y="19.90" text-anchor="end">0.30</text>
<text x="403.50" y="244.0" text-anchor="middle">100</text>
<text x="437.28" y="244.0" text-anchor="middle">200</text>
<text x="471.06" y="244.0" text-anchor="middle">300</text>
<text x="504.83" y="244.0" text-anchor="middle">400</text>
<text x="538.61" y="244.0" text-anchor="middle">500</text>
<text x="572.39" y="244.0" text-anchor="middle">600</text>
<text x="606.17" y="244.0" text-anchor="middle">700</text>
<text x="639.94" y="244.0" text-anchor="middle">800</text>
<text x="673.72" y="244.0" text-anchor="middle">900</text>
<text x="707.50" y="244.0" text-anchor="middle">1000</text>
</g>
<text x="555.6" y="257.5" text-anchor="middle" font-size="10.8" fill="#111">Wavelength (nm)</text>
<text transform="translate(375.6 112.3) rotate(-90)" text-anchor="middle" font-size="10.8" fill="#111">Reflectivity</text>
<text x="181.4" y="288.6" text-anchor="middle" font-size="17.5" font-family="Liberation Serif, serif" fill="#000">(a)</text>
<text x="563.2" y="288.6" text-anchor="middle" font-size="17.5" font-family="Liberation Serif, serif" fill="#000">(b)</text>
</svg>
</body></html>
